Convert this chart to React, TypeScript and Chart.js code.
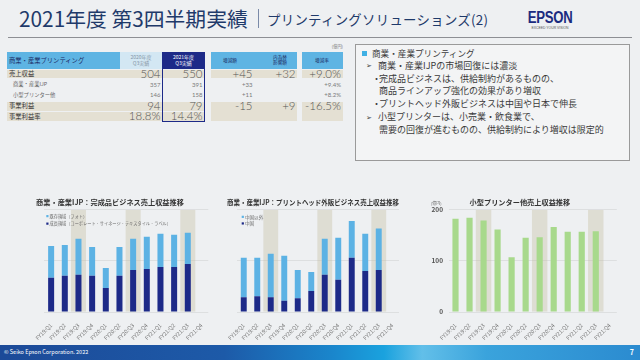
import React, { useEffect, useRef } from 'react';
import { Chart, registerables } from 'chart.js';

Chart.register(...registerables);

// ---------- data ----------
const quarters = ['FY19:Q1', 'FY19:Q2', 'FY19:Q3', 'FY19:Q4', 'FY20:Q1', 'FY20:Q2', 'FY20:Q3', 'FY20:Q4', 'FY21:Q1', 'FY21:Q2', 'FY21:Q3', 'FY21:Q4'];
const highlightedQuarters = ['FY19:Q3', 'FY20:Q3', 'FY21:Q3'];
const yTickMax = 200;
const yTickStep = 100;

const finishedGrowth = [67, 71, 73, 71, 47, 71, 82, 84, 88, 88, 94, null];
const finishedExisting = [62, 60, 70, 56, 39, 56, 61, 63, 65, 63, 61, null];
const finishedLabels = ['成長領域（コーポレート・サイネージ・テキスタイル・ラベル）', '既存領域（フォト）'];

const headChina = [29, 31, 29, 22, 27, 41, 73, 63, 106, 80, 82, null];
const headNonChina = [77, 75, 85, 88, 55, 37, 70, 82, 72, 73, 81, null];
const headLabels = ['中国', '中国以外'];

const smallPrinters = [182, 184, 179, 161, 107, 145, 146, 166, 157, 157, 158, null];

const tableRows = ['売上収益', '商業・産業IJP', '小型プリンター他', '事業利益', '事業利益率'];
const fy20Q3 = ['504', '357', '146', '94', '18.8%'];
const fy21Q3 = ['550', '391', '158', '79', '14.4%'];
const changeAmt = ['+45', '+33', '+11', '-15', ''];
const fxImpact = ['+32', '', '', '+9', ''];
const changeRate = ['+9.0%', '+9.4%', '+8.2%', '-16.5%', ''];

const bulletLines = [
  '商業・産業IJPの市場回復には濃淡',
  '完成品ビジネスは、供給制約があるものの、',
  '商品ラインアップ強化の効果があり増収',
  'プリントヘッド外販ビジネスは中国や日本で伸長',
  '小型プリンターは、小売業・飲食業で、',
  '需要の回復が進むものの、供給制約により増収は限定的',
];

// ---------- styles ----------
const FONT = '"Noto Sans CJK JP", "Noto Sans", sans-serif';
const NUM_FONT = 'Lato, "Open Sans", "Noto Sans", sans-serif';
const BG = '#eef0f2';
const LIGHT_BLUE = '#5cb2e4';
const NAVY = '#1d2a88';
const GREEN = '#a8d98c';
const BAND = 'rgba(190,183,150,0.33)';
const BEIGE = '#e4e0d3';
const HEAD_BLUE = '#5eb4e3';

const bandValues = quarters.map((q) => (highlightedQuarters.includes(q) ? yTickMax : null));

const miniLegend = {
  id: 'miniLegend',
  afterDatasetsDraw(chart: any, _a: any, opts: any) {
    if (!opts || !opts.show) return;
    const ctx = chart.ctx;
    const { left, top } = chart.chartArea;
    const items = chart.data.datasets.filter((d: any) => d.stack !== 'band').slice().reverse();
    ctx.save();
    ctx.font = `${opts.size}px ${FONT}`;
    ctx.textBaseline = 'middle';
    items.forEach((d: any, i: number) => {
      const y = top + opts.dy + i * opts.gap;
      ctx.fillStyle = d.backgroundColor;
      ctx.fillRect(left + opts.dx, y - 1.1, 2.2, 2.2);
      ctx.fillStyle = '#6a6a6a';
      ctx.fillText(d.label, left + opts.dx + 3.2, y);
    });
    ctx.restore();
  },
};

const unitLabel = {
  id: 'unitLabel',
  afterDraw(chart: any, _a: any, opts: any) {
    if (!opts || !opts.text) return;
    const ctx = chart.ctx;
    ctx.save();
    ctx.font = `4px ${FONT}`;
    ctx.fillStyle = '#666';
    ctx.textAlign = 'right';
    ctx.textBaseline = 'middle';
    ctx.fillText(opts.text, chart.scales.y.right - 7, chart.chartArea.top - 6.5);
    ctx.restore();
  },
};

function bandDataset() {
  return {
    label: 'band',
    data: bandValues,
    backgroundColor: BAND,
    grouped: false,
    stack: 'band',
    order: 5,
    barPercentage: 1.1,
    categoryPercentage: 1,
  };
}

function seriesDataset(label: string, data: (number | null)[], color: string) {
  return { label, data, backgroundColor: color, barPercentage: 0.55, categoryPercentage: 0.8, order: 0, borderWidth: 0 };
}

function makeConfig(opts: {
  datasets: any[];
  title: string;
  padL: number;
  padR: number;
  yWidth: number;
  showY: boolean;
  legend?: any;
  unit?: string;
}) {
  return {
    type: 'bar',
    data: { labels: quarters, datasets: opts.datasets },
    plugins: [miniLegend, unitLabel],
    options: {
      responsive: false,
      animation: false,
      devicePixelRatio: 1,
      layout: { padding: { left: opts.padL, right: opts.padR, top: 0, bottom: 0 } },
      plugins: {
        legend: { display: false },
        tooltip: { enabled: false },
        title: {
          display: true,
          text: opts.title,
          color: '#333',
          font: { size: 7.2, weight: 'bold', family: FONT },
          padding: { top: 3.2, bottom: 2.8 },
        },
        miniLegend: opts.legend || { show: false },
        unitLabel: { text: opts.unit || '' },
      },
      scales: {
        x: {
          stacked: true,
          grid: { display: false },
          border: { display: false },
          ticks: {
            color: '#777',
            font: { size: 5.5, family: FONT },
            maxRotation: 45,
            minRotation: 45,
            padding: 2,
            autoSkip: false,
          },
          afterFit: (s: any) => {
            s.height = 33;
          },
        },
        y: {
          stacked: true,
          min: 0,
          max: yTickMax,
          grid: { color: 'rgba(0,0,0,0.07)', drawTicks: false },
          border: { display: false },
          ticks: {
            display: opts.showY,
            stepSize: yTickStep,
            color: '#555',
            font: { size: 6.5, weight: 'bold', family: FONT },
            padding: 5.5,
          },
          afterFit: (s: any) => {
            s.width = opts.yWidth;
          },
        },
      },
    },
  };
}

function ChartCanvas({ left, top, width, height, config }: any) {
  const ref = useRef<HTMLCanvasElement>(null);
  useEffect(() => {
    const chart = new Chart(ref.current as HTMLCanvasElement, config);
    return () => chart.destroy();
  }, []);
  return (
    <canvas
      ref={ref}
      width={width}
      height={height}
      style={{ position: 'absolute', left, top, width, height }}
    />
  );
}

function Txt({ x, y, size, color = '#333', align = 'left', weight = 400, children, family = FONT, lh, ls }: any) {
  const h = lh || size * 1.25;
  const style: any = {
    position: 'absolute',
    top: y - h / 2,
    fontSize: size,
    lineHeight: `${h}px`,
    color,
    fontWeight: weight,
    whiteSpace: 'nowrap',
    fontFamily: family,
  };
  if (ls) style.letterSpacing = ls;
  if (align === 'left') style.left = x;
  else if (align === 'right') style.right = 640 - x;
  else {
    style.left = x - 60;
    style.width = 120;
    style.textAlign = 'center';
  }
  return <div style={style}>{children}</div>;
}

function Box({ x, y, w, h, bg, border }: any) {
  return <div style={{ position: 'absolute', left: x, top: y, width: w, height: h, background: bg, border, boxSizing: 'border-box' }} />;
}

const rowCenters = [73.8, 84.5, 95, 106, 116.5];
const rowBig = [true, false, false, true, true];

function DataTable() {
  const els: any[] = [];
  const bands = [
    [69.5, 8.8],
    [101.5, 9.2],
    [111.8, 9.2],
  ];
  bands.forEach(([y, h], i) => {
    els.push(<Box key={'b1' + i} x={7} y={y} w={198} h={h} bg={BEIGE} />);
  });
  els.push(<Box key="g1" x={211} y={69.5} w={86} h={8.8} bg={BEIGE} />);
  els.push(<Box key="g2" x={211} y={101.5} w={86} h={19.5} bg={BEIGE} />);
  els.push(<Box key="g3" x={302} y={69.5} w={41} h={8.8} bg={BEIGE} />);
  els.push(<Box key="g4" x={302} y={101.5} w={41} h={19.5} bg={BEIGE} />);
  els.push(<Box key="h0" x={7} y={52} w={113} h={17} bg={HEAD_BLUE} />);
  els.push(<Box key="h1" x={120} y={52} w={42} h={17} bg="#d3e7f3" />);
  els.push(<Box key="h2" x={162} y={52} w={43} h={17} bg={NAVY} />);
  els.push(<Box key="h2b" x={162} y={52} w={43} h={69.5} border={`1px solid ${NAVY}`} />);
  els.push(<Box key="h3" x={211} y={52} w={86} h={17} bg={HEAD_BLUE} />);
  els.push(<Box key="h4" x={302} y={52} w={41} h={17} bg={HEAD_BLUE} />);
  els.push(<Txt key="ht0" x={9} y={60.5} size={6.3} color="#1c2b66">商業・産業プリンティング</Txt>);
  els.push(<Txt key="ht1a" x={141} y={57.5} size={5} color="#8596a6" align="center">2020年度</Txt>);
  els.push(<Txt key="ht1b" x={141} y={63.5} size={5} color="#8596a6" align="center">Q3実績</Txt>);
  els.push(<Txt key="ht2a" x={183.5} y={57.5} size={5} color="#fff" align="center">2021年度</Txt>);
  els.push(<Txt key="ht2b" x={183.5} y={63.5} size={5} color="#fff" align="center">Q3実績</Txt>);
  els.push(<Txt key="ht3" x={230} y={60.5} size={4.6} color="#1c2b66" align="center">増減額</Txt>);
  els.push(<Txt key="ht4a" x={280} y={57.8} size={4.6} color="#1c2b66" align="center">内為替</Txt>);
  els.push(<Txt key="ht4b" x={280} y={63.2} size={4.6} color="#1c2b66" align="center">影響額</Txt>);
  els.push(<Txt key="ht5" x={322} y={60.5} size={4.6} color="#1c2b66" align="center">増減率</Txt>);
  els.push(<Txt key="unit" x={343} y={46.5} size={4.2} color="#777" align="right">(億円)</Txt>);

  tableRows.forEach((label, i) => {
    const y = rowCenters[i];
    const big = rowBig[i];
    const ns = big ? 11.5 : 6;
    const nc = big ? '#555' : '#7a7a7a';
    const w = big ? 300 : 400;
    els.push(
      <Txt key={'l' + i} x={big ? 9 : 13} y={y} size={big ? 6.3 : 5.3} color={big ? '#333' : '#666'}>
        {label}
      </Txt>
    );
    els.push(<Txt key={'a' + i} x={160.5} y={y} size={ns} color={nc} weight={w} align="right" family={NUM_FONT}>{fy20Q3[i]}</Txt>);
    els.push(<Txt key={'b' + i} x={202.5} y={y} size={ns} color={nc} weight={w} align="right" family={NUM_FONT}>{fy21Q3[i]}</Txt>);
    els.push(<Txt key={'c' + i} x={252.5} y={y} size={ns} color={nc} weight={w} align="right" family={NUM_FONT}>{changeAmt[i]}</Txt>);
    els.push(<Txt key={'d' + i} x={295.5} y={y} size={ns} color={nc} weight={w} align="right" family={NUM_FONT}>{fxImpact[i]}</Txt>);
    els.push(<Txt key={'e' + i} x={341} y={y} size={ns} color={nc} weight={w} align="right" family={NUM_FONT}>{changeRate[i]}</Txt>);
  });
  return <>{els}</>;
}

function Commentary() {
  const c = '#3a3a3a';
  return (
    <>
      <Box x={355} y={44} w={275} h={117} bg="#f3f4f5" border="1px solid #9a9a9a" />
      <Box x={362} y={50.5} w={5} h={5} bg="#3fb0e4" />
      <Txt x={372} y={53} size={8.6} color={c}>商業・産業プリンティング</Txt>
      <Txt x={366} y={65.5} size={7} color={c}>➢</Txt>
      <Txt x={378} y={65.5} size={9} color={c}>{bulletLines[0]}</Txt>
      <Txt x={372} y={79} size={9} color={c}>・</Txt>
      <Txt x={379} y={79} size={9} color={c}>{bulletLines[1]}</Txt>
      <Txt x={379} y={91} size={9} color={c}>{bulletLines[2]}</Txt>
      <Txt x={372} y={103.5} size={9} color={c}>・</Txt>
      <Txt x={379} y={103.5} size={9} color={c}>{bulletLines[3]}</Txt>
      <Txt x={366} y={117} size={7} color={c}>➢</Txt>
      <Txt x={378} y={117} size={9} color={c}>{bulletLines[4]}</Txt>
      <Txt x={379} y={129.5} size={9} color={c}>{bulletLines[5]}</Txt>
    </>
  );
}

export default function App() {
  useEffect(() => {
    document.body.style.margin = '0';
    document.body.style.overflow = 'hidden';
  }, []);

  const cfg1 = makeConfig({
    datasets: [
      bandDataset(),
      seriesDataset(finishedLabels[0], finishedGrowth, NAVY),
      seriesDataset(finishedLabels[1], finishedExisting, LIGHT_BLUE),
    ],
    title: '商業・産業IJP：完成品ビジネス売上収益推移',
    padL: 11.7,
    padR: 6.7,
    yWidth: 32.6,
    showY: false,
    legend: { show: true, dx: 2, dy: 6.5, gap: 7.5, size: 4.2 },
  });
  const cfg2 = makeConfig({
    datasets: [
      bandDataset(),
      seriesDataset(headLabels[0], headChina, NAVY),
      seriesDataset(headLabels[1], headNonChina, LIGHT_BLUE),
    ],
    title: '商業・産業IJP：プリントヘッド外販ビジネス売上収益推移',
    padL: 15,
    padR: 28,
    yWidth: 10,
    showY: false,
    legend: { show: true, dx: 4.7, dy: 7.2, gap: 6.6, size: 4.6 },
  });
  const cfg3 = makeConfig({
    datasets: [bandDataset(), seriesDataset('小型プリンター他', smallPrinters, GREEN)],
    title: '小型プリンター他売上収益推移',
    padL: 0,
    padR: 23.2,
    yWidth: 25.5,
    showY: true,
    unit: '(億円)',
  });

  return (
    <div style={{ position: 'absolute', left: 0, top: 0, width: 640, height: 360, background: BG, overflow: 'hidden', fontFamily: FONT }}>
      <Txt x={19} y={18} size={20.8} color="#1f3a6a" lh={26}>2021年度 第3四半期実績</Txt>
      <div style={{ position: 'absolute', left: 258, top: 9, width: 1, height: 19, background: '#7a8aa8' }} />
      <Txt x={267} y={19} size={13.4} color="#1f3a6a" lh={17} ls="0.3px">プリンティングソリューションズ(2)</Txt>
      <div
        style={{
          position: 'absolute',
          left: 523,
          top: 9,
          width: 54,
          height: 18,
          fontFamily: '"Liberation Sans", Arial, sans-serif',
          fontWeight: 700,
          fontSize: 16,
          lineHeight: '18px',
          color: '#1b2b7f',
          textAlign: 'center',
          transform: 'scaleX(0.82)',
          letterSpacing: '-0.3px',
        }}
      >
        EPSON
      </div>
      <Txt x={550} y={28} size={3.4} color="#555" align="center" family='"Liberation Sans", sans-serif'>EXCEED YOUR VISION</Txt>
      <div style={{ position: 'absolute', left: 8, top: 37, width: 624, height: 1, background: '#8d8f94' }} />

      <DataTable />
      <Commentary />

      <ChartCanvas left={0} top={195} width={215} height={150} config={cfg1} />
      <ChartCanvas left={212} top={195} width={215} height={150} config={cfg2} />
      <ChartCanvas left={423} top={195} width={217} height={150} config={cfg3} />

      <div
        style={{
          position: 'absolute',
          left: 0,
          top: 345,
          width: 640,
          height: 15,
          background:
            'linear-gradient(90deg, #1c4a98 0%, #1d5aa8 35%, #1a86cc 52%, #1aa2de 60%, #62bfe9 66%, #3aa3dc 76%, #2b8bd0 100%)',
        }}
      />
      <Txt x={4} y={352.5} size={5.5} color="#fff">© Seiko Epson Corporation. 2022</Txt>
      <Txt x={634} y={352} size={7} color="#fff" align="right" weight={700}>7</Txt>
    </div>
  );
}
